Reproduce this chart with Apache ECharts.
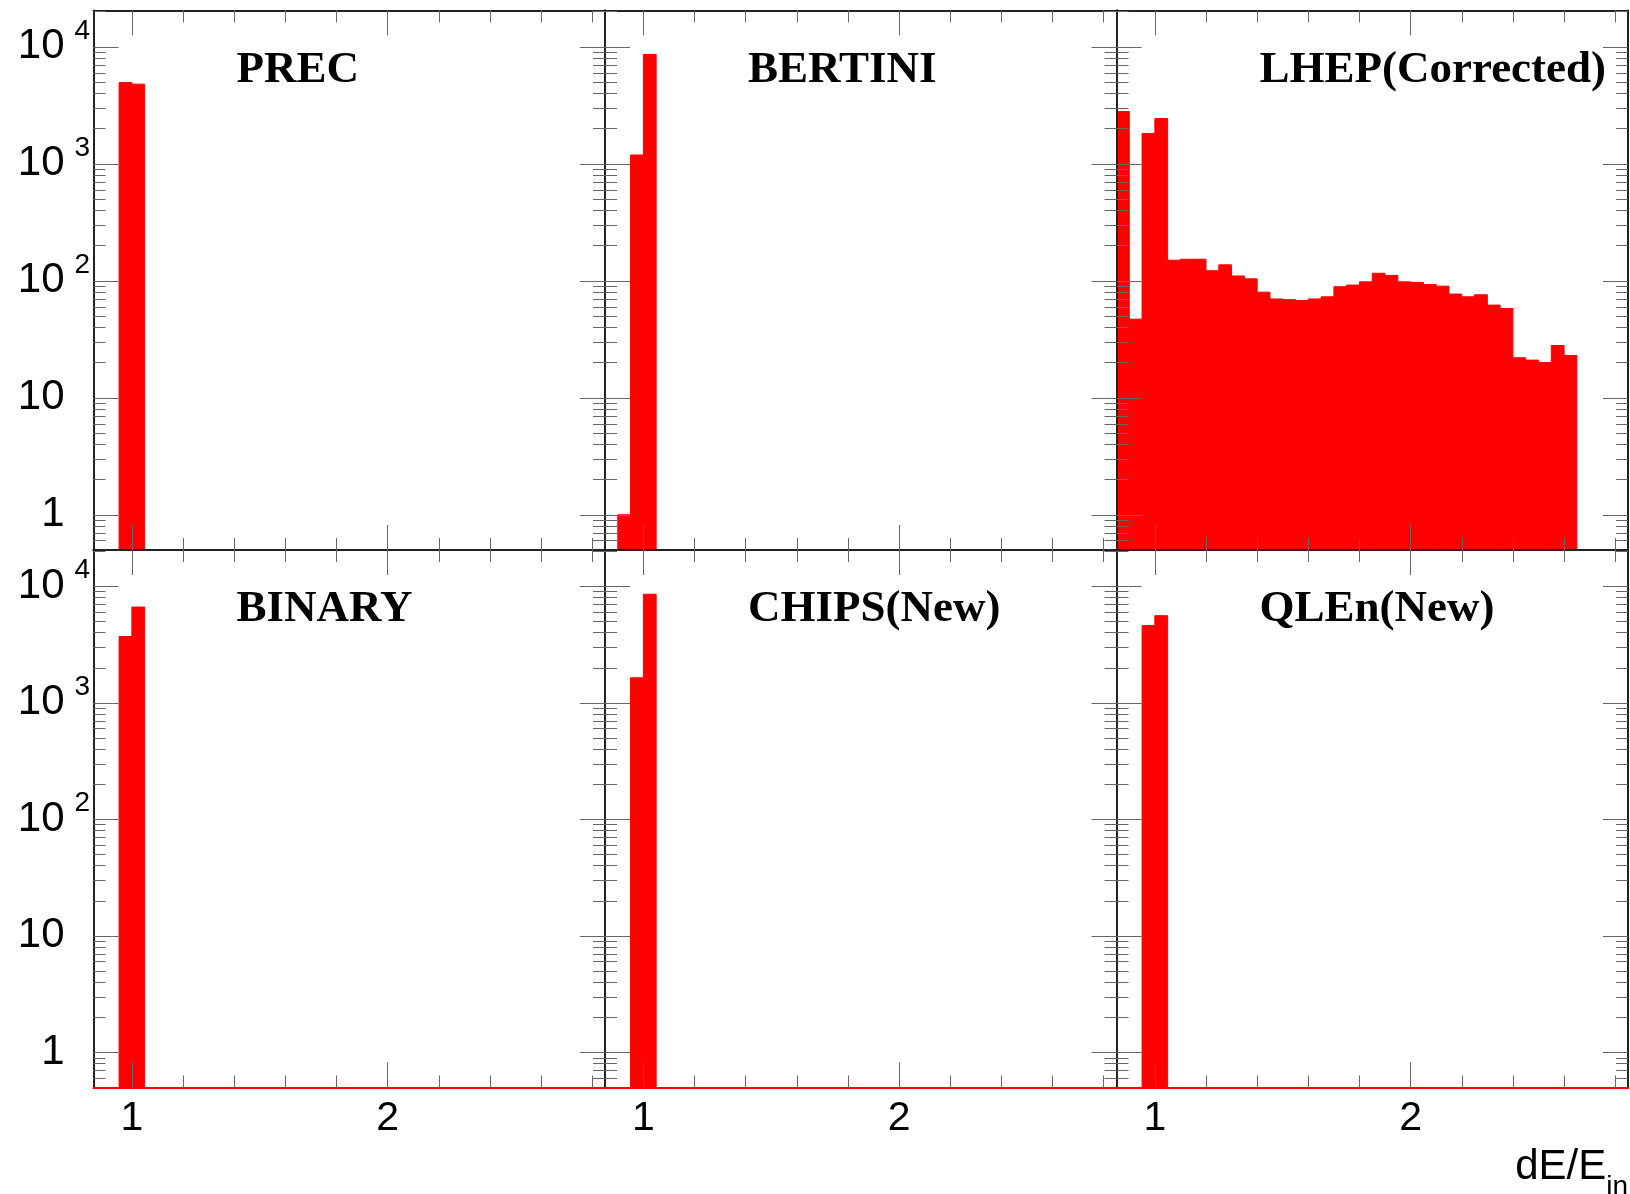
<!DOCTYPE html>
<html>
<head>
<meta charset="UTF-8">
<title>dE/E_in</title>
<script src="https://cdn.jsdelivr.net/npm/echarts@6.0.0/dist/echarts.min.js"></script>
<style>
    html, body { margin: 0; padding: 0; background: #fff; }
    #chart { width: 1630px; height: 1194px; }
</style>
</head>
<body>
<div id="chart"></div>
<script>
// one panel per model, left to right, top to bottom
var panelNames = ['PREC', 'BERTINI', 'LHEP(Corrected)', 'BINARY', 'CHIPS(New)', 'QLEn(New)'];

// histograms: low edge of each 0.05 bin and its entries
var binWidth = 0.05;
var precLow = [0.95, 1.00];
var precCounts = [4950, 4800];
var bertiniLow = [0.90, 0.95, 1.00];
var bertiniCounts = [1, 1190, 8630];
var lhepLow = [0.85, 0.90, 0.95, 1.00, 1.05, 1.10, 1.15, 1.20, 1.25, 1.30, 1.35, 1.40,
    1.45, 1.50, 1.55, 1.60, 1.65, 1.70, 1.75, 1.80, 1.85, 1.90, 1.95, 2.00,
    2.05, 2.10, 2.15, 2.20, 2.25, 2.30, 2.35, 2.40, 2.45, 2.50, 2.55, 2.60];
var lhepCounts = [2800, 47, 1815, 2440, 150, 153, 153, 122, 137, 110, 104, 80,
    70, 69, 68, 70, 73, 89, 92, 98, 116, 111, 98, 97,
    93, 90, 77, 73, 76, 62, 58, 22, 21, 20, 28, 23];
var binaryLow = [0.95, 1.00];
var binaryCounts = [3710, 6640];
var chipsLow = [0.95, 1.00];
var chipsCounts = [1640, 8550];
var qlenLow = [0.95, 1.00];
var qlenCounts = [4600, 5600];

// axis ticks
var xMajorTicks = [1, 2];
var xMinorTicks = [1.2, 1.4, 1.6, 1.8, 2.2, 2.4, 2.6, 2.8];
var yMajorTicks = [1, 10, 100, 1000, 10000];
var yMinorTicks = [0.6, 0.7, 0.8, 0.9, 2, 3, 4, 5, 6, 7, 8, 9,
    20, 30, 40, 50, 60, 70, 80, 90, 200, 300, 400, 500, 600, 700, 800, 900,
    2000, 3000, 4000, 5000, 6000, 7000, 8000, 9000, 20000];

var xMin = 0.85, xMax = 2.85;
var yMin = 0.5, yMax = 20500;

var hists = [
    [precLow, precCounts],
    [bertiniLow, bertiniCounts],
    [lhepLow, lhepCounts],
    [binaryLow, binaryCounts],
    [chipsLow, chipsCounts],
    [qlenLow, qlenCounts]
];

var colLeft = [93.5, 605, 1116.5];
var panelW = 511.5;
var rowTop = [10.4, 550];
var rowH = [539.6, 537.5];

var frameColor = '#222';
var tickColor = '#666';
var labelFont = 'Liberation Sans';

function histData(lows, counts) {
    return lows.map(function (lo, k) {
        return [lo, lo + binWidth, counts[k]];
    });
}

function renderBin(params, api) {
    var top = api.coord([api.value(0), api.value(2)]);
    var base = api.coord([api.value(1), yMin]);
    return {
        type: 'rect',
        shape: { x: top[0], y: top[1], width: base[0] - top[0], height: base[1] - top[1] },
        style: { fill: '#ff0000', stroke: '#ff0000', lineWidth: 1 }
    };
}

function yLabel(v) {
    if (v === 1) return '1{pad| }';
    if (v === 10) return '10{pad| }';
    return '10{sup|' + Math.round(Math.log10(v)) + '}';
}

var grids = [], xAxes = [], yAxes = [], series = [], titles = [];

for (var i = 0; i < 6; i++) {
    var row = Math.floor(i / 3), col = i % 3;
    var bottomRow = row === 1, leftCol = col === 0;

    grids.push({ left: colLeft[col], top: rowTop[row], width: panelW, height: rowH[row] });

    titles.push({
        text: panelNames[i],
        left: colLeft[col] + 143,
        top: row === 0 ? 48 : 587,
        padding: 0,
        textStyle: { fontFamily: 'Liberation Serif', fontWeight: 'bold', fontSize: 45, color: '#000' }
    });

    // x axes: bottom major / minor, top major / minor
    ['bottom', 'top'].forEach(function (pos) {
        var isBottom = pos === 'bottom';
        xAxes.push({
            type: 'value', gridIndex: i, position: pos, min: xMin, max: xMax, z: 5,
            axisLine: { show: true, onZero: false,
                lineStyle: { color: (isBottom && bottomRow) ? '#ff0000' : frameColor, width: 2 } },
            axisTick: { show: true, inside: true, length: 25, customValues: xMajorTicks,
                lineStyle: { color: tickColor, width: 1 } },
            axisLabel: { show: isBottom && bottomRow, customValues: xMajorTicks, margin: 11,
                fontFamily: labelFont, fontSize: 41, color: '#000' },
            splitLine: { show: false }
        });
        xAxes.push({
            type: 'value', gridIndex: i, position: pos, min: xMin, max: xMax, z: 5,
            axisLine: { show: false, onZero: false },
            axisTick: { show: true, inside: true, length: 12, customValues: xMinorTicks,
                lineStyle: { color: tickColor, width: 1 } },
            axisLabel: { show: false },
            splitLine: { show: false }
        });
    });

    // y axes: left major / minor, right major / minor
    ['left', 'right'].forEach(function (pos) {
        var isLeft = pos === 'left';
        yAxes.push({
            type: 'log', logBase: 10, gridIndex: i, position: pos, min: yMin, max: yMax, z: 5,
            axisLine: { show: true, onZero: false, lineStyle: { color: frameColor, width: 2 } },
            axisTick: { show: true, inside: true, length: 25, customValues: yMajorTicks,
                lineStyle: { color: tickColor, width: 1 } },
            axisLabel: {
                show: isLeft && leftCol, customValues: yMajorTicks, margin: 3.5,
                fontFamily: labelFont, fontSize: 42, color: '#000',
                formatter: yLabel,
                rich: {
                    sup: { fontFamily: labelFont, fontSize: 28, color: '#000', width: 16, padding: [0, 0, 32, 9.5] },
                    pad: { fontFamily: labelFont, fontSize: 28, color: '#000', width: 16, padding: [0, 0, 0, 9.5] }
                }
            },
            splitLine: { show: false }
        });
        yAxes.push({
            type: 'log', logBase: 10, gridIndex: i, position: pos, min: yMin, max: yMax, z: 5,
            axisLine: { show: false, onZero: false },
            axisTick: { show: true, inside: true, length: 12, customValues: yMinorTicks,
                lineStyle: { color: tickColor, width: 1 } },
            axisLabel: { show: false },
            splitLine: { show: false }
        });
    });

    series.push({
        type: 'custom',
        name: panelNames[i],
        xAxisIndex: i * 4,
        yAxisIndex: i * 4,
        z: 1,
        renderItem: renderBin,
        encode: { x: [0, 1], y: 2 },
        data: histData(hists[i][0], hists[i][1])
    });
}

var myChart = echarts.init(document.getElementById('chart'));

var option = {
    backgroundColor: '#fff',
    animation: false,
    title: titles,
    grid: grids,
    xAxis: xAxes,
    yAxis: yAxes,
    series: series,
    graphic: [{
        type: 'text',
        right: 2,
        top: 1146,
        style: {
            text: 'dE/E{sub|in}',
            fontFamily: labelFont,
            fontSize: 42,
            fill: '#000',
            rich: {
                sub: { fontFamily: labelFont, fontSize: 28, fill: '#000', padding: [40, 0, 0, 0] }
            }
        }
    }]
};

myChart.setOption(option);
</script>
</body>
</html>
